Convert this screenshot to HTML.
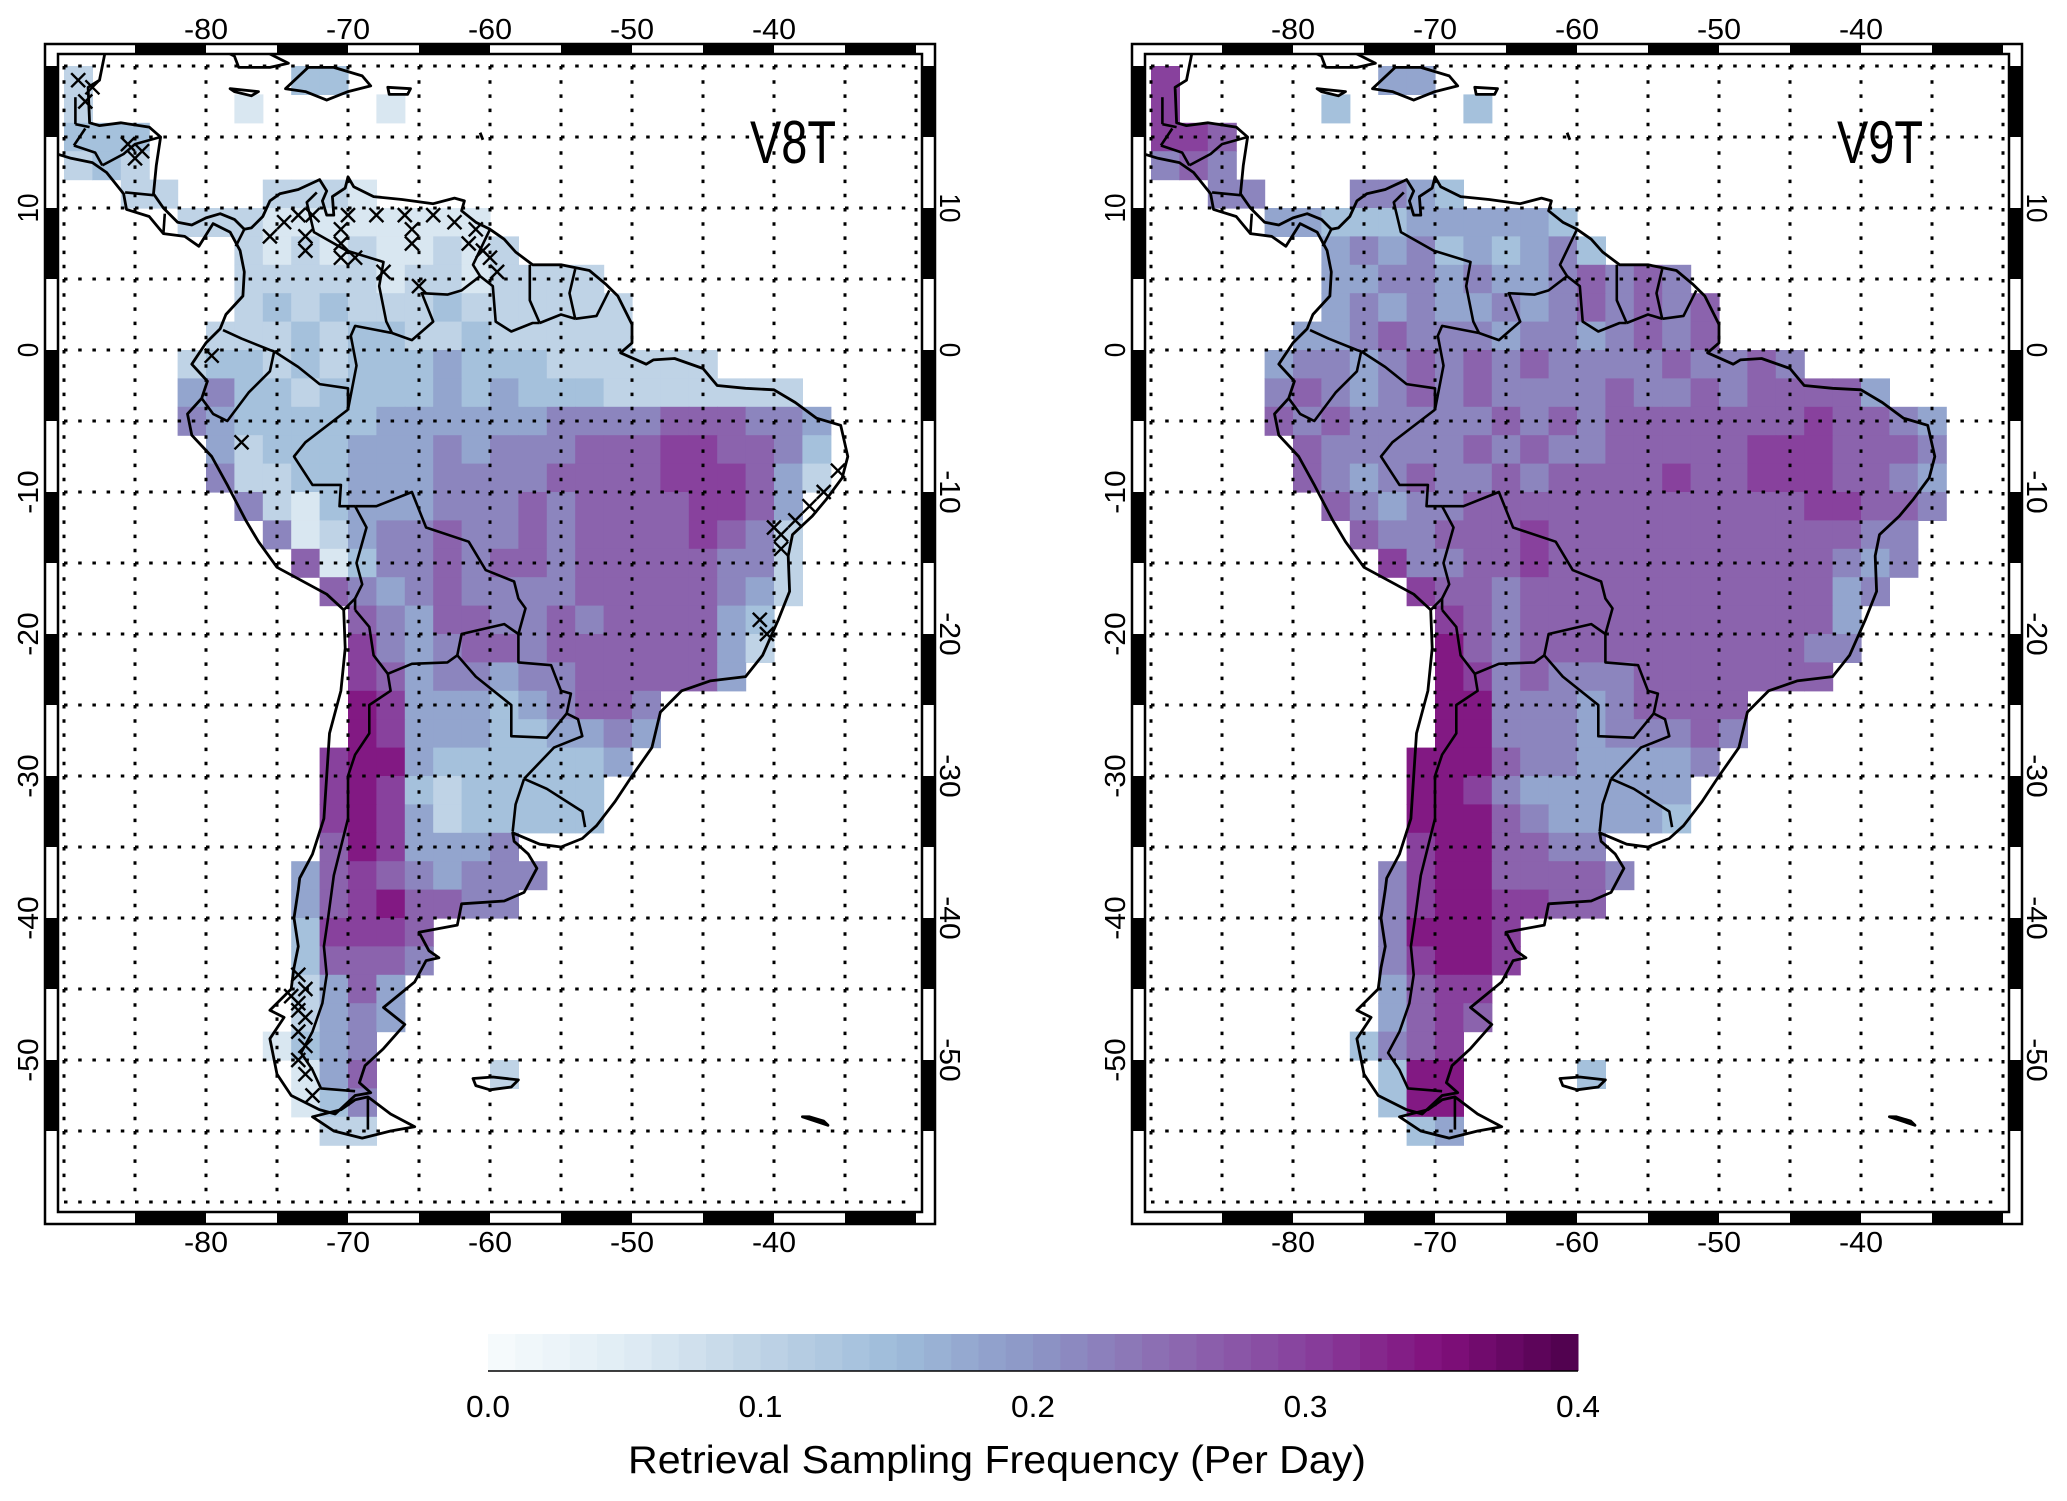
<!DOCTYPE html>
<html><head><meta charset="utf-8">
<style>
html,body{margin:0;padding:0;background:#fff;}
svg{display:block;}
text{font-family:"Liberation Sans",sans-serif;}
</style></head>
<body>
<svg id="fig" width="2067" height="1501" viewBox="0 0 2067 1501" xmlns="http://www.w3.org/2000/svg">
<defs>
<clipPath id="clipL"><rect x="58" y="54" width="864" height="1158"/></clipPath>
<clipPath id="clipR"><rect x="1145" y="54" width="864" height="1158"/></clipPath>
</defs>
</svg>
<script>
// ---- data ----
const colorbarTicks = [0.0, 0.1, 0.2, 0.3, 0.4];
const lonTicks = [-80, -70, -60, -50, -40];
const latTicks = [10, 0, -10, -20, -30, -40, -50];
// 2-degree cells; rows start at lat 20 going south, cols start at lon -90. '.' = no data, digit d -> value d*0.04+0.02
const v8tRows = [
"2.......33....................",
"2.....1....1..................",
"333...........................",
"232...........................",
"..22...2221...................",
"....22211111111...............",
"......2121211212..............",
"......2222212212222...........",
"......23232223222222..........",
".....222323322322222..........",
"....2332323334333222222.......",
"....4533233334343332222222....",
"....54333334444445555666554...",
".....4233344454555666776653...",
".....5223344455556666777642...",
"......52134445556566667764....",
".......5124556556566667652....",
"........613556566566666552....",
".........65456555566666542....",
"..........654665565666643.....",
"..........754566566666642.....",
"..........76455455666664......",
"..........87444345665.........",
"..........87444334454.........",
".........78843333334..........",
".........7873233333...........",
".........7874233333...........",
".........6874445..............",
"........467654555.............",
"........46786655..............",
"........37776.................",
"........36665.................",
"........2464..................",
"........2454..................",
".......1345...................",
"........146....2..............",
"........135...................",
".........22..................."
];
const v9tRows = [
"7.......44....................",
"7.....3....3..................",
"776...........................",
"565...........................",
"..55...5543...................",
"....44333444443...............",
"......4545343453..............",
"......4455454456565...........",
"......45454454565656..........",
".....445655545545656..........",
"....4554565656555565565.......",
"....5654565655556556566664....",
"....656555556565666666676654..",
".....65555565655666667776665..",
".....65456556566667667776654..",
"......6545566666666666677665..",
".......65566676666666666655...",
"........7556676666666666545...",
".........76656666666666645....",
"..........765666666666664.....",
"..........865666666666655.....",
"..........87565556666666......",
"..........88555456666.........",
"..........88555455565.........",
".........88865544445..........",
".........8875444444...........",
".........8886544443...........",
".........7886655..............",
"........578866665.............",
"........57887766..............",
"........58887.................",
"........57887.................",
"........4677..................",
"........4676..................",
".......3567...................",
"........388....3..............",
"........388...................",
".........34..................."
];
// stations flagged with x marks (lon, lat) in V8T
const crossLon = [-89,-88,-88.5,-85.5,-84.5,-85,-75.5,-74.5,-73.5,-72.5,-73,-73,-70,-70.5,-70.5,-70.5,-69.5,-68,-67.5,-66,-65.5,-65.5,-64,-62.5,-61.5,-61,-60.5,-60,-59.5,-65,-79.6,-77.5,-35.5,-36.5,-37.5,-38.5,-39.5,-40,-39.5,-41,-40.5,-73.5,-73,-73.5,-73,-73.5,-73,-73.5,-73,-72.5,-74,-73.5];
const crossLat = [19,18.5,17.5,14.5,14,13.5,8,9,9.5,9.5,8,7,9.5,8.5,7.5,6.5,6.5,9.5,5.5,9.5,8.5,7.5,9.5,9,7.5,8.5,7,6.5,5.5,4.5,-0.4,-6.5,-8.5,-10,-11,-12,-13,-12.5,-14,-19,-20,-44,-45,-46,-47,-48,-49,-50,-51,-52.5,-45.5,-46.5];

// ---- geography outlines (lon,lat) ----
const coast = [[-90.5,21],[-87,21.5],[-87.5,19],[-88.3,18.5],[-88.2,16],[-87.5,15.8],[-86,16],[-84,15.7],[-83.2,15],[-83.5,13],[-83.7,11],[-83,10],[-82,9],[-81,8.8],[-80,9.3],[-79,9.6],[-78,9.2],[-77.3,8.5],[-76.8,8.6],[-76,9.4],[-75.5,10.5],[-74.8,11],[-73.5,11.3],[-72,12],[-71.5,11.2],[-71.8,10.5],[-71.5,9.5],[-71,9.5],[-71.1,10.8],[-70.2,11.4],[-70,12.2],[-69.6,11.5],[-68.2,10.8],[-66.2,10.6],[-64,10.3],[-62.5,10.7],[-61.8,10.5],[-62,9.8],[-61,9],[-60,8.5],[-59,7.8],[-58.2,6.9],[-57,6],[-55,6],[-53,5.6],[-51.8,4.6],[-51,3.8],[-50,1.8],[-50,0.5],[-50.8,-0.2],[-49,-1],[-48.5,-0.7],[-47,-0.6],[-45,-1.3],[-44,-2.5],[-42,-2.7],[-40,-2.8],[-38.5,-3.7],[-37,-4.8],[-35.3,-5.3],[-34.8,-7.5],[-35.2,-9],[-36.3,-10.5],[-37.3,-11.7],[-38.7,-13],[-39,-14.5],[-38.9,-17],[-39.7,-19],[-40.8,-21.5],[-42,-23],[-44.5,-23.3],[-46.5,-24],[-48,-25.5],[-48.6,-28],[-50,-30],[-51.2,-31.8],[-52.5,-33.5],[-53.5,-34.4],[-55,-35],[-56.5,-34.8],[-58.4,-34],[-58.3,-34.6],[-57.3,-35.5],[-56.7,-36.5],[-57.6,-38.2],[-59,-38.8],[-62,-39],[-62.3,-40.5],[-65,-41],[-64.3,-42.3],[-63.6,-42.8],[-64.5,-43],[-65.3,-44.5],[-67.5,-46.3],[-66,-47.5],[-67.5,-49.2],[-68.8,-50.4],[-69.2,-51.6],[-68.4,-52.3],[-69.5,-52.5],[-70.9,-53.8],[-72,-53.5],[-74,-52.5],[-75,-51],[-75.5,-48.5],[-74.5,-47],[-75.5,-46.5],[-74,-45],[-73.8,-43.5],[-73.5,-42],[-73.8,-40],[-73.5,-38],[-73.4,-37.2],[-72.5,-35.5],[-71.7,-33],[-71.5,-30],[-71.3,-27],[-70.5,-24],[-70.2,-21],[-70.3,-18.3],[-71.5,-17.2],[-75,-15.3],[-76.3,-13.5],[-77.2,-12],[-78.5,-9.5],[-79.6,-7.5],[-81,-6],[-81.3,-4.5],[-80.3,-3.4],[-79.9,-2.2],[-81,-1],[-80,0.5],[-79,1.5],[-78.6,2.5],[-77.4,3.8],[-77.3,5.5],[-77.6,7],[-78.3,8.3],[-79.5,8.9],[-80.5,7.3],[-81.5,8],[-83,8.2],[-84,9.4],[-85.6,9.9],[-85.8,11],[-87,12.5],[-88,13.2],[-89.5,13.5],[-90.5,13.8]];
const islands = [
 [[-68.6,-52.6],[-67,-53.8],[-65.3,-54.7],[-67,-55],[-69,-55.5],[-71,-55],[-72.5,-54],[-70.5,-53.5],[-69.5,-52.8]],
 [[-74.4,18.4],[-72.8,19.9],[-71,19.9],[-69,19.3],[-68.4,18.6],[-70,18.2],[-71.5,17.6],[-73,18.2]],
 [[-78.3,18.4],[-76.3,18.2],[-76.8,17.9],[-78,18.2]],
 [[-67.2,18.5],[-65.6,18.4],[-65.8,18],[-67.1,18]],
 [[-85,21.8],[-83,22.9],[-80,23],[-77,21.6],[-74.2,20.2],[-75.5,19.9],[-77.7,19.9],[-78,20.7],[-80,21.7],[-82,22.3],[-84.5,21.8]],
 [[-61.2,-51.3],[-59.8,-51.2],[-58,-51.4],[-58.5,-51.9],[-60,-52.1],[-61,-51.8]],
 [[-60.7,15.3],[-60.5,14.8]],
 [[-38,-54],[-36.2,-54.6],[-36.5,-54.3],[-37.5,-54]]
];
const borders = [
 [[-72.2,11.1],[-72.9,10.4],[-72.4,8.3],[-70.1,7],[-67.5,6.2],[-67.8,4.5],[-67.3,2],[-66.9,1.2]],
 [[-66.9,1.2],[-65.5,0.7],[-64,2],[-64.8,4],[-63,3.9],[-62,4.2],[-60.7,5.2]],
 [[-60.7,5.2],[-61.2,6],[-60,8.5]],
 [[-60.7,5.2],[-59.8,4.5],[-59.6,2],[-58.5,1.3],[-57,1.9],[-56.5,1.9]],
 [[-56.5,1.9],[-57.2,3.5],[-57.2,6]],
 [[-56.5,1.9],[-55,2.5],[-54,2.2]],
 [[-54,2.2],[-54.4,4],[-54,5.7]],
 [[-54,2.2],[-52.5,2.4],[-51.6,4.2]],
 [[-66.9,1.2],[-69.5,1.7],[-69.8,1],[-69.4,-1.1],[-70,-4.2]],
 [[-78.8,1.4],[-77.5,0.8],[-75.5,0],[-75.2,-0.1]],
 [[-75.2,-0.1],[-73.5,-1.2],[-72,-2.4],[-70,-2.7],[-70,-4.2]],
 [[-75.2,-0.1],[-75.5,-1.5],[-77,-3],[-78.5,-5],[-79.5,-4.5],[-80.3,-3.4]],
 [[-70,-4.2],[-73,-6.5],[-73.8,-7.5],[-72.5,-9.5],[-70.5,-9.5],[-70.6,-11],[-69.5,-11]],
 [[-69.5,-11],[-68.7,-12.5],[-69.4,-15],[-69,-16.5],[-69.5,-17.5],[-69.5,-18.3]],
 [[-69.5,-17.5],[-70.3,-18.3]],
 [[-69.5,-11],[-68,-11],[-65.5,-10],[-64.5,-12.5],[-61.5,-13.5],[-60.3,-15.5],[-58.3,-16.3],[-58,-17.5],[-57.5,-18.2],[-58,-20]],
 [[-69.5,-18.3],[-68.5,-19.5],[-68.2,-21.5],[-67.2,-22.8]],
 [[-67.2,-22.8],[-65.5,-22.1],[-63,-22],[-62.3,-21.5]],
 [[-62.3,-21.5],[-62,-20],[-59,-19.3],[-58,-20]],
 [[-58,-20],[-58,-22],[-55.7,-22.2],[-55,-24],[-54.3,-24.2],[-54.6,-25.6]],
 [[-62.3,-21.5],[-61,-23],[-58.5,-25],[-58.5,-27.2],[-56,-27.3],[-54.6,-25.6]],
 [[-54.6,-25.6],[-53.8,-26],[-53.5,-27.2],[-55.5,-28],[-57.6,-30.2]],
 [[-57.6,-30.2],[-56,-30.9],[-53.5,-32.5],[-53.3,-33.6]],
 [[-57.6,-30.2],[-58.2,-32],[-58.4,-33.9]],
 [[-67.2,-22.8],[-67,-24],[-68.5,-25],[-68.5,-27],[-69.5,-28.5],[-70,-30],[-70,-33],[-70.5,-35],[-71,-37],[-71.4,-40],[-71.7,-42],[-71.5,-44],[-71.8,-46],[-72.5,-48],[-73.3,-49.5],[-72.5,-50.7],[-71.9,-52],[-69.5,-52.2]],
 [[-68.6,-52.6],[-68.6,-54.9]],
 [[-89.2,17.8],[-89.2,15.9]],[[-89.2,15.9],[-88.2,15.7]],
 [[-89.3,14.4],[-87.8,13.9],[-87.3,13]],
 [[-89.3,14.4],[-88.5,15.6]],
 [[-87.3,13],[-85.8,13.8],[-85,14.5],[-83.2,15]],
 [[-85.7,11.1],[-83.7,10.9]],
 [[-83,8.2],[-82.9,9.6]],
 [[-77.3,8.5],[-77.9,7.3]]
];

const NS = "http://www.w3.org/2000/svg";
const svg = document.getElementById("fig");
function mk(tag, attrs, parent){const e=document.createElementNS(NS,tag);for(const k in attrs)e.setAttribute(k,attrs[k]);(parent||svg).appendChild(e);return e;}

const stops=[[0,"#f7fcfd"],[0.05,"#e0ecf4"],[0.1,"#bfd3e6"],[0.15,"#9ebcda"],[0.2,"#8c96c6"],[0.25,"#8c6bb1"],[0.3,"#88419d"],[0.35,"#810f7c"],[0.4,"#4d004b"]];
function hex(h){return [1,3,5].map(i=>parseInt(h.substr(i,2),16));}
function colorFor(v){
  v=Math.max(0,Math.min(0.4,v));
  for(let i=0;i<stops.length-1;i++){
    if(v<=stops[i+1][0]){const t=(v-stops[i][0])/(stops[i+1][0]-stops[i][0]);const a=hex(stops[i][1]),b=hex(stops[i+1][1]);
      return "rgb("+a.map((x,j)=>Math.round(x+(b[j]-x)*t)).join(",")+")";}
  }
  return stops[stops.length-1][1];
}

const X0=64, Y0=66, PX=14.2;
function drawPanel(ox, rows, label, clipId, withCrosses, key){
  const xs=lon=>ox+X0+(lon+90)*PX;
  const ys=lat=>Y0+(20-lat)*PX;
  const g=mk("g",{});
  
  
  const plot=mk("g",{"clip-path":"url(#"+clipId+")"},g);
  
  
  rows.forEach((row,r)=>{
    for(let c=0;c<row.length;c++){
      const ch=row[c]; if(ch===".") continue;
      const v=parseInt(ch)*0.04+0.02;
      const lon=-90+2*c, lat=20-2*r;
      const rc=mk("rect",{x:xs(lon),y:ys(lat),width:2*PX+0.6,height:2*PX+0.6,fill:colorFor(v)},plot);
      
      
    }
  });
  for(let lon=-90;lon<=-30;lon+=5){
    const l=mk("line",{x1:xs(lon),x2:xs(lon),y1:ys(20),y2:ys(-60),stroke:"#000","stroke-width":3,"stroke-dasharray":"3.5 10.7"},plot);
    
    
  }
  for(let lat=20;lat>=-60;lat-=5){
    const l=mk("line",{x1:xs(-90),x2:xs(-30),y1:ys(lat),y2:ys(lat),stroke:"#000","stroke-width":3,"stroke-dasharray":"3.5 10.7"},plot);
    
    
  }
  const pts=a=>a.map(p=>xs(p[0]).toFixed(1)+","+ys(p[1]).toFixed(1)).join(" ");
  const cl=mk("polygon",{points:pts(coast),fill:"none",stroke:"#000","stroke-width":2.8,"stroke-linejoin":"round"},plot);
  
  
  islands.forEach(isl=>{
    const p=mk(isl.length>2?"polygon":"polyline",{points:pts(isl),fill:"none",stroke:"#000","stroke-width":2.8,"stroke-linejoin":"round"},plot);
    
    
  });
  borders.forEach(b=>{
    const p=mk("polyline",{points:pts(b),fill:"none",stroke:"#000","stroke-width":2.6,"stroke-linejoin":"round"},plot);
    
    
  });
  if(withCrosses){
    crossLon.forEach((lon,i)=>{
      const cx=xs(lon), cy=ys(crossLat[i]), s=7;
      const p=mk("path",{d:`M${cx-s},${cy-s}L${cx+s},${cy+s}M${cx+s},${cy-s}L${cx-s},${cy+s}`,stroke:"#000","stroke-width":2.4,fill:"none"},plot);
      
      
    });
  }
  const L=ox+45,R=ox+935,T=44,B=1224,iL=ox+58,iR=ox+922,iT=54,iB=1212;
  const fr=mk("g",{},g);
  
  
  mk("rect",{x:L,y:T,width:R-L,height:B-T,fill:"none",stroke:"#000","stroke-width":2.5},fr);
  mk("rect",{x:iL,y:iT,width:iR-iL,height:iB-iT,fill:"none",stroke:"#000","stroke-width":2.5},fr);
  for(let lon=-85;lon<-30;lon+=10){
    const x1=Math.max(xs(lon),iL), x2=Math.min(xs(lon+5),iR);
    mk("rect",{x:x1,y:T,width:x2-x1,height:iT-T,fill:"#000"},fr);
    mk("rect",{x:x1,y:iB,width:x2-x1,height:B-iB,fill:"#000"},fr);
  }
  for(let lat=20;lat>-60;lat-=10){
    const y1=Math.max(ys(lat),T), y2=ys(lat-5);
    mk("rect",{x:L,y:y1,width:iL-L,height:y2-y1,fill:"#000"},fr);
    mk("rect",{x:iR,y:y1,width:R-iR,height:y2-y1,fill:"#000"},fr);
  }
  lonTicks.forEach(lon=>{
    const t1=mk("text",{x:xs(lon),y:39,"font-size":29,"text-anchor":"middle",textLength:44,lengthAdjust:"spacingAndGlyphs"},g);
    t1.textContent=String(lon);
    
    
    const t2=mk("text",{x:xs(lon),y:1252,"font-size":29,"text-anchor":"middle",textLength:44,lengthAdjust:"spacingAndGlyphs"},g);
    t2.textContent=String(lon);
    
    
  });
  latTicks.forEach(lat=>{
    const y=ys(lat);
    const s=String(lat), w=s.length*14.5;
    const t1=mk("text",{x:0,y:0,"font-size":29,"text-anchor":"middle",textLength:w,lengthAdjust:"spacingAndGlyphs",transform:`translate(${ox+38},${y}) rotate(-90)`},g);
    t1.textContent=s;
    
    
    const t2=mk("text",{x:0,y:0,"font-size":29,"text-anchor":"middle",textLength:w,lengthAdjust:"spacingAndGlyphs",transform:`translate(${ox+940},${y}) rotate(90)`},g);
    t2.textContent=s;
    
    
  });
  const tt=mk("text",{x:ox+793,y:163,"font-size":60,"text-anchor":"middle",textLength:86,lengthAdjust:"spacingAndGlyphs"},g);
  tt.textContent=label;
  
  
}
drawPanel(0, v8tRows, "V8T", "clipL", true, "v8t");
drawPanel(1087, v9tRows, "V9T", "clipR", false, "v9t");

const cbX0=488, cbX1=1578, cbY=1334, cbH=37, nSteps=40;
const cb=mk("g",{});


const cbx=v=>cbX0+(v-colorbarTicks[0])/(colorbarTicks[colorbarTicks.length-1]-colorbarTicks[0])*(cbX1-cbX0);
for(let i=0;i<nSteps;i++){
  const v0=0.4*i/nSteps, v1=0.4*(i+1)/nSteps;
  const r=mk("rect",{x:cbx(v0),y:cbY,width:cbx(v1)-cbx(v0)+0.5,height:cbH,fill:colorFor((v0+v1)/2)},cb);
  
  
}
mk("line",{x1:cbX0,x2:cbX1,y1:cbY+cbH,y2:cbY+cbH,stroke:"#000","stroke-width":1.5},cb);
colorbarTicks.forEach(v=>{
  const t=mk("text",{x:cbx(v),y:1417,"font-size":31,"text-anchor":"middle",textLength:44,lengthAdjust:"spacingAndGlyphs"},cb);
  t.textContent=v.toFixed(1);
  
  
});
const ct=mk("text",{x:997,y:1473,"font-size":39,"text-anchor":"middle",textLength:738,lengthAdjust:"spacingAndGlyphs"},cb);
ct.textContent="Retrieval Sampling Frequency (Per Day)";


</script>
</body></html>
